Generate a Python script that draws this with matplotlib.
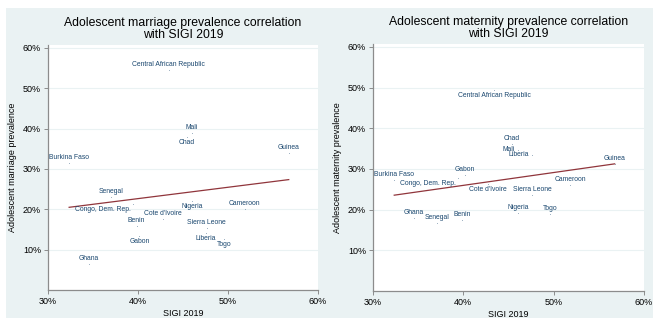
import numpy as np
import matplotlib
matplotlib.use("Agg")
import matplotlib.pyplot as plt
from matplotlib.patches import Rectangle

plt.rcParams['font.family'] = ['Liberation Sans', 'DejaVu Sans']

#
# Data (percent)
#
countries = ["Central African Republic", "Mali", "Chad", "Guinea", "Burkina Faso",
             "Senegal", "Congo, Dem. Rep.", "Nigeria", "Cameroon", "Cote d'Ivoire",
             "Benin", "Sierra Leone", "Liberia", "Togo", "Gabon", "Ghana"]
sigi = [43.4, 46.0, 45.4, 56.75, 32.35, 37.05, 39.4, 46.05, 51.85, 42.75,
        39.85, 47.65, 47.55, 49.6, 40.15, 34.5]
marriage = [54.6, 38.9, 38.0, 34.0, 31.5, 23.1, 21.3, 22.1, 20.1, 17.6,
            15.9, 15.4, 14.2, 12.7, 13.4, 6.4]
maternity = [49.3, 34.7, 36.2, 31.1, 27.2, 16.8, 27.7, 19.2, 26.0, 26.2,
             17.5, 23.6, 33.5, 19.0, 28.4, 18.0]

# label clock positions (Stata style)
pos_marriage = [12, 12, 6, 12, 12, 12, 8, 6, 12, 12, 12, 12, 6, 6, 6, 12]
pos_maternity = [6, 9, 12, 12, 12, 12, 8, 12, 12, 6, 12, 12, 9, 12, 12, 12]

xticks = [30, 40, 50, 60]
yticks = [10, 20, 30, 40, 50, 60]

navy = "#1a476f"
maroon = "#90353b"
bg = "#eaf2f3"
axis_gray = "#8c8c8c"

offsets = {12: ((0, 4), 'center', 'center'),
           6: ((0, -4), 'center', 'center'),
           9: ((-1.5, 0), 'right', 'center'),
           8: ((-1.5, -4), 'right', 'center')}

fig = plt.figure(figsize=(6.53, 3.18), dpi=100)
fig.patches.append(Rectangle((6 / 653, 0), 1, 1 - 8 / 318, transform=fig.transFigure,
                             facecolor=bg, edgecolor='none', zorder=-10))


def panel(rect, yvals, positions, title, ylabel):
    ax = fig.add_axes(rect)
    ax.set_facecolor('white')
    x = np.array(sigi)
    y = np.array(yvals)
    ax.scatter(x, y, s=0.25, color=navy, alpha=0.6, lw=0, zorder=3)
    for name, xi, yi, p in zip(countries, x, y, positions):
        off, ha, va = offsets[p]
        ax.annotate(name, (xi, yi), xytext=off, textcoords='offset points',
                    ha=ha, va=va, fontsize=4.9, color=navy, zorder=4)
    # linear fit
    m, c = np.polyfit(x, y, 1)
    xf = np.array([x.min(), x.max()])
    ax.plot(xf, m * xf + c, color=maroon, lw=0.9, zorder=2)
    ax.set_xlim(30, 60)
    ax.set_ylim(0, 60.7)
    ax.set_xticks(xticks)
    ax.set_xticklabels([f"{t}%" for t in xticks], fontsize=6.5)
    ax.set_yticks(yticks)
    ax.set_yticklabels([f"{t}%" for t in yticks], fontsize=6.5)
    ax.grid(axis='y', color=bg, lw=0.8)
    ax.set_axisbelow(True)
    for s in ['top', 'right']:
        ax.spines[s].set_visible(False)
    for s in ['left', 'bottom']:
        ax.spines[s].set_color(axis_gray)
        ax.spines[s].set_linewidth(0.9)
    ax.tick_params(length=3, width=0.7, color=axis_gray, pad=2)
    ax.set_xlabel("SIGI 2019", fontsize=6.5, labelpad=2)
    ax.set_ylabel(ylabel, fontsize=6.5, labelpad=4)
    ax.set_title(title, fontsize=8.8, pad=5, linespacing=1.0)
    return ax


panel([48 / 653, 28 / 318, 270 / 653, 245 / 318], marriage, pos_marriage,
      "Adolescent marriage prevalence correlation\nwith SIGI 2019",
      "Adolescent marriage prevalence")
panel([373 / 653, 27 / 318, 271 / 653, 247 / 318], maternity, pos_maternity,
      "Adolescent maternity prevalence correlation\nwith SIGI 2019",
      "Adolescent maternity prevalence")

fig.savefig("out.png", dpi=100)
